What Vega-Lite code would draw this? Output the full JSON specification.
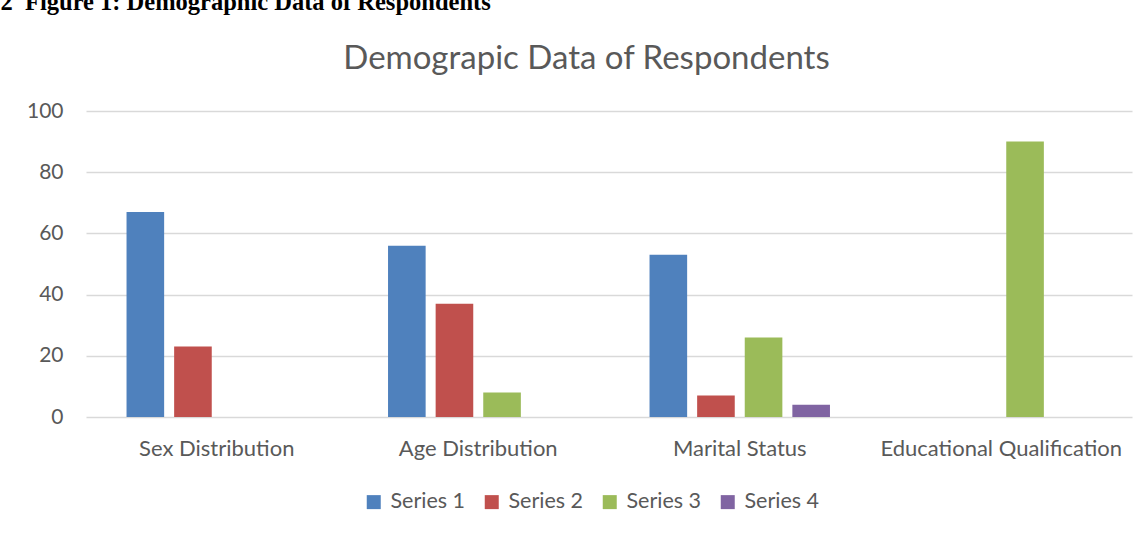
{
  "$schema": "https://vega.github.io/schema/vega-lite/v6.json",
  "autosize": {"type": "none"},
  "width": 1046,
  "height": 306,
  "padding": {"left": 86, "top": 111, "right": 14, "bottom": 119},
  "background": "white",
  "data": {
    "values": [
      {"category": "Sex Distribution", "series": "Series 1", "value": 67},
      {"category": "Sex Distribution", "series": "Series 2", "value": 23},
      {"category": "Age Distribution", "series": "Series 1", "value": 56},
      {"category": "Age Distribution", "series": "Series 2", "value": 37},
      {"category": "Age Distribution", "series": "Series 3", "value": 8},
      {"category": "Marital Status", "series": "Series 1", "value": 53},
      {"category": "Marital Status", "series": "Series 2", "value": 7},
      {"category": "Marital Status", "series": "Series 3", "value": 26},
      {"category": "Marital Status", "series": "Series 4", "value": 4},
      {"category": "Educational Qualification", "series": "Series 3", "value": 90}
    ]
  },
  "mark": {"type": "bar"},
  "encoding": {
    "x": {
      "field": "category",
      "type": "nominal",
      "sort": ["Sex Distribution", "Age Distribution", "Marital Status", "Educational Qualification"],
      "scale": {"paddingInner": 0.31, "paddingOuter": 0.155},
      "axis": {
        "title": "Demograpic Data of Respondents",
        "titleX": 500,
        "titleY": -349,
        "titleAlign": "center",
        "titleBaseline": "alphabetic",
        "titleFont": "Lato",
        "titleFontSize": 33,
        "titleFontWeight": "normal",
        "titleColor": "#595959",
        "labelAngle": 0,
        "labelFont": "Lato",
        "labelFontSize": 22,
        "labelColor": "#595959",
        "labelBaseline": "alphabetic",
        "labelPadding": 38,
        "labelLimit": 0,
        "labelOverlap": false,
        "ticks": false,
        "domain": false
      }
    },
    "xOffset": {
      "field": "series",
      "type": "nominal",
      "scale": {"paddingInner": 0.21, "paddingOuter": 0}
    },
    "y": {
      "field": "value",
      "type": "quantitative",
      "scale": {"domain": [0, 100], "nice": false},
      "axis": {
        "values": [0, 20, 40, 60, 80, 100],
        "title": "2\u00a0\u00a0Figure 1: Demographic Data of Respondents",
        "titleAngle": 0,
        "titleX": -86,
        "titleY": -102,
        "titleAlign": "left",
        "titleBaseline": "alphabetic",
        "titleFont": "Liberation Serif",
        "titleFontSize": 24.5,
        "titleFontWeight": "bold",
        "titleColor": "#000000",
        "labelFont": "Lato",
        "labelFontSize": 21,
        "labelColor": "#595959",
        "labelPadding": 23,
        "ticks": false,
        "domain": false,
        "grid": true,
        "gridColor": "#d9d9d9",
        "gridWidth": 1.4
      }
    },
    "color": {
      "field": "series",
      "type": "nominal",
      "scale": {
        "domain": ["Series 1", "Series 2", "Series 3", "Series 4"],
        "range": ["#4f81bd", "#c0504d", "#9bbb59", "#8064a2"]
      },
      "legend": {
        "title": null,
        "orient": "none",
        "direction": "horizontal",
        "columns": 4,
        "legendX": 277,
        "legendY": 380,
        "symbolType": "square",
        "symbolSize": 196,
        "symbolStrokeWidth": 0,
        "labelFont": "Lato",
        "labelFontSize": 21.5,
        "labelColor": "#595959",
        "labelOffset": 6,
        "columnPadding": 15
      }
    }
  },
  "config": {
    "view": {"stroke": null}
  }
}
